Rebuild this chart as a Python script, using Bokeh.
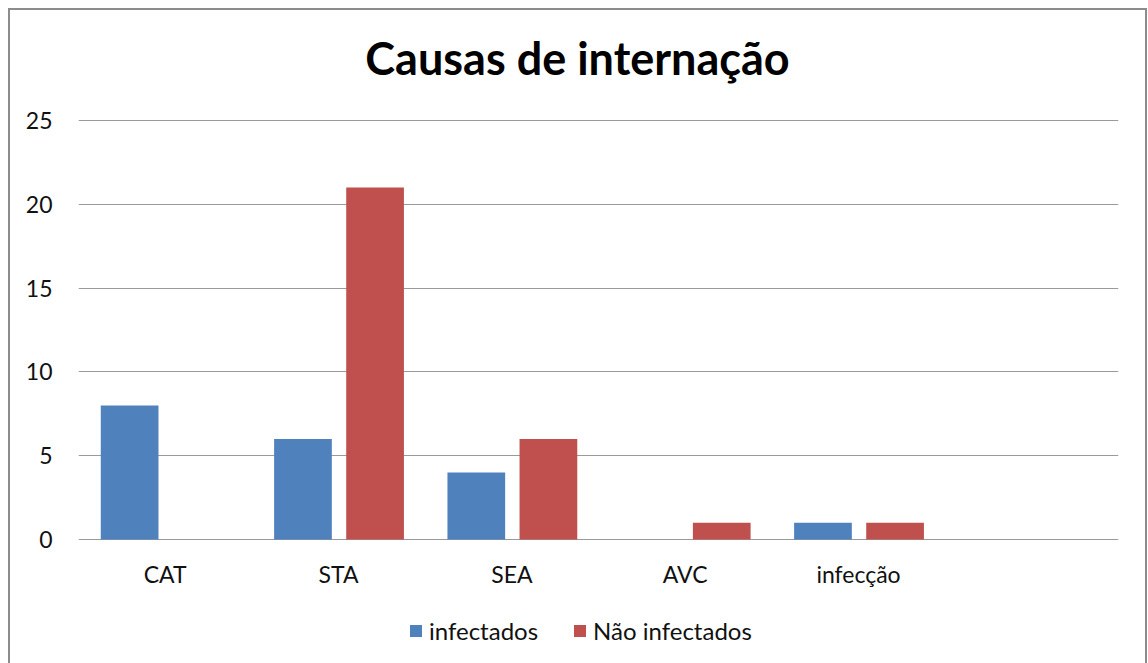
from bokeh.plotting import figure
from bokeh.models import ColumnDataSource, FactorRange, Range1d, Legend, LegendItem, Label
from bokeh.core.properties import value
from bokeh.transform import dodge
from bokeh.embed import file_html
from bokeh.resources import INLINE

# ---- data ----
categories = ["CAT", "STA", "SEA", "AVC", "infecção"]
empty_slot = [" "]
infectados = [8, 6, 4, 0, 1]
nao_infectados = [0, 21, 6, 1, 1]
series_names = ["infectados", "Não infectados"]
y_ticks = [0, 5, 10, 15, 20, 25]
title_text = "Causas de internação"

FONT = "Lato"
BLUE = "#4F81BD"
RED = "#C0504D"
GRID = "#9a9a9a"

factors = categories + empty_slot
src = ColumnDataSource(dict(cat=categories, inf=infectados, nin=nao_infectados,
                            base=[0] * len(categories)))

p = figure(
    x_range=FactorRange(factors=factors),
    y_range=Range1d(-7.40, 31.563),
    width=1139, height=655,
    output_backend="svg", toolbar_location=None,
    min_border_left=68, min_border_right=31,
    min_border_top=0, min_border_bottom=2,
)
p.margin = (8, 0, 0, 8)
p.styles = {"border-left": "2px solid #8c8c8c", "border-top": "2px solid #8c8c8c",
            "border-right": "2px solid #8c8c8c", "box-sizing": "border-box"}

r1 = p.vbar(x=dodge("cat", -0.205, range=p.x_range), top="inf", width=0.333,
            source=src, fill_color=BLUE, line_color=None)
r2 = p.vbar(x=dodge("cat", 0.211, range=p.x_range), top="nin", width=0.333,
            source=src, fill_color=RED, line_color=None)

# category labels below the zero line
p.text(x="cat", y="base", text="cat", source=src, text_align="center",
       text_baseline="middle", y_offset=35, text_font=value(FONT),
       text_font_size="23px", text_color="#111111")

# title (screen units, relative to plot frame)
title = Label(x=499, y=606, x_units="screen", y_units="screen", text=title_text,
              text_align="center", text_baseline="alphabetic",
              text_font=FONT, text_font_size="45px", text_font_style="bold",
              text_color="black")
p.add_layout(title)

# axes
p.yaxis.ticker = y_ticks
p.yaxis.axis_line_color = None
p.yaxis.major_tick_line_color = None
p.yaxis.minor_tick_line_color = None
p.yaxis.major_label_standoff = 20
p.yaxis.major_label_text_font = FONT
p.yaxis.major_label_text_font_size = "23px"
p.yaxis.major_label_text_color = "#111111"

p.xaxis.visible = False

p.xgrid.grid_line_color = None
p.ygrid.grid_line_color = GRID
p.ygrid.grid_line_width = 1

p.outline_line_color = None
p.background_fill_color = "white"
p.border_fill_color = "white"

legend = Legend(items=[LegendItem(label=series_names[0], renderers=[r1]),
                       LegendItem(label=series_names[1], renderers=[r2])],
                orientation="horizontal", location=(330, 18))
legend.label_text_font = FONT
legend.label_text_font_size = "24px"
legend.label_text_color = "#111111"
legend.glyph_width = 15
legend.glyph_height = 15
legend.label_standoff = 6
legend.spacing = 34
legend.padding = 0
legend.margin = 0
legend.border_line_color = None
legend.background_fill_alpha = 0
p.add_layout(legend)

open("out.html", "w").write(file_html(p, INLINE))
